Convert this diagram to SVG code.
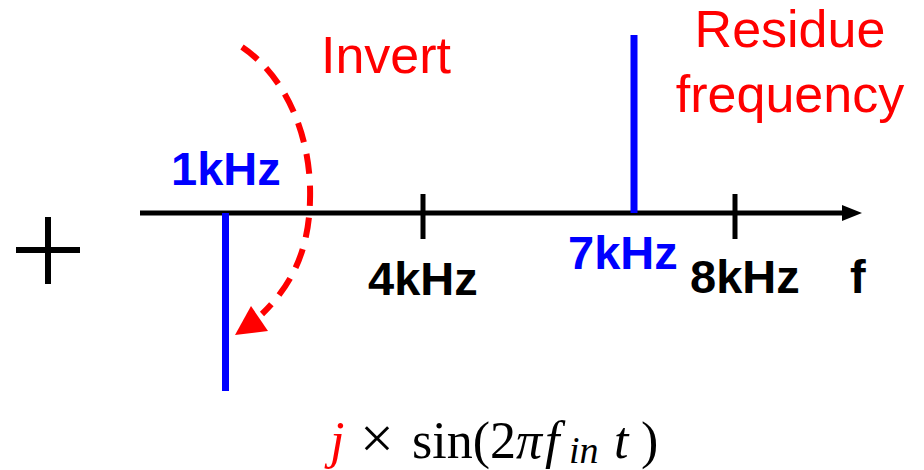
<svg xmlns="http://www.w3.org/2000/svg" width="924" height="470" viewBox="0 0 924 470">
<style>
.bold{font-family:"Liberation Sans",Arial,sans-serif;font-weight:bold;font-size:47px}
.red{font-family:"Liberation Sans",Arial,sans-serif;font-size:52px;fill:#ff0000}
.math{font-family:"Liberation Serif","DejaVu Serif",serif;font-size:52px;fill:#000}
.it{font-style:italic}
.blue{fill:#0000ff}
</style>
<rect width="924" height="470" fill="#fff"/>
<g id="plus">
<line x1="16" y1="250" x2="80" y2="250" stroke="#000" stroke-width="6"/>
<line x1="48" y1="217" x2="48" y2="284" stroke="#000" stroke-width="6"/>
</g>
<g id="axis">
<line x1="140" y1="213" x2="846" y2="213" stroke="#000" stroke-width="5"/>
<polygon points="842,205 862,213 842,221" fill="#000"/>
<line x1="423" y1="194" x2="423" y2="239" stroke="#000" stroke-width="5"/>
<line x1="735" y1="194" x2="735" y2="239" stroke="#000" stroke-width="5"/>
<text class="bold" x="368" y="295">4kHz</text>
<text class="bold" x="690" y="293">8kHz</text>
<text class="bold" x="850" y="293">f</text>
</g>
<g id="tone1k">
<line x1="225.5" y1="213" x2="225.5" y2="391" stroke="#0000ff" stroke-width="7"/>
<text class="bold blue" x="171" y="185">1kHz</text>
</g>
<g id="tone7k">
<line x1="634" y1="35" x2="634" y2="213" stroke="#0000ff" stroke-width="7"/>
<text class="bold blue" x="568" y="269">7kHz</text>
</g>
<g id="residue">
<text class="red" text-anchor="middle" x="790" y="47">Residue</text>
<text class="red" text-anchor="middle" x="790" y="112">frequency</text>
</g>
<g id="connectors">
<path d="M242,47 C288,78 312,140 310,200 C309,250 292,285 262,314" fill="none" stroke="#ff0000" stroke-width="6" stroke-dasharray="20,12"/>
<polygon points="235,335 251,306 268,331" fill="#ff0000"/>
<text class="red" x="321" y="73">Invert</text>
</g>
<g id="formula">
<text class="math" y="458"><tspan class="it" fill="#ff0000" x="330">j</tspan><tspan font-size="60" x="360">×</tspan><tspan x="412">sin(2</tspan><tspan class="it" x="516">π</tspan><tspan class="it" x="545">f</tspan><tspan class="it" font-size="38" x="569" y="463">in</tspan><tspan class="it" x="614" y="458">t</tspan><tspan x="641">)</tspan></text>
</g>
</svg>
